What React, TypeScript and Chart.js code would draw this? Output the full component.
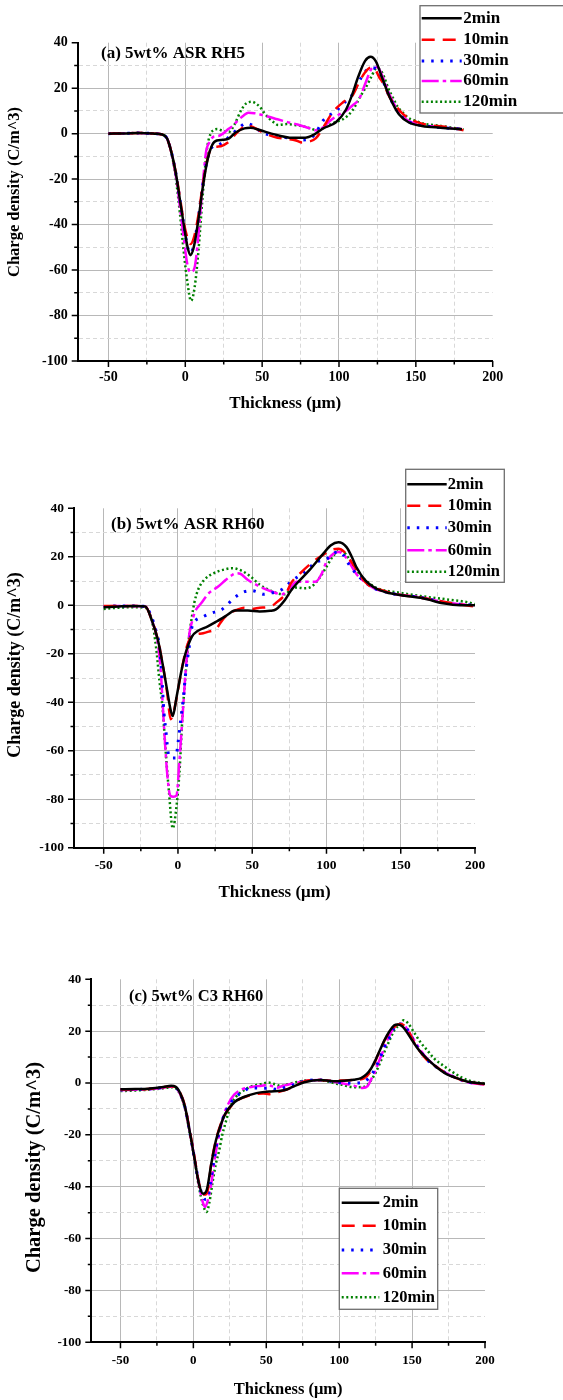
import React, { useEffect, useRef } from 'react';
import { Chart, registerables } from 'chart.js';

Chart.register(...registerables);

// ---------------- data ----------------
const SERIES = ['2min', '10min', '30min', '60min', '120min'];
const X_TICK_LABELS = [-50, 0, 50, 100, 150, 200];
const X_TICKS_ALL = [-50, -25, 0, 25, 50, 75, 100, 125, 150, 175, 200];
const Y_TICK_LABELS = [-100, -80, -60, -40, -20, 0, 20, 40];
const Y_TICKS_ALL = [-100, -90, -80, -70, -60, -50, -40, -30, -20, -10, 0, 10, 20, 30, 40];
const PANEL_TITLES = ['(a) 5wt% ASR RH5', '(b) 5wt% ASR RH60', '(c) 5wt% C3 RH60'];
const X_TITLE = 'Thickness (\u03bcm)';
const Y_TITLE = 'Charge density (C/m^3)';

// Panel (a) 5wt% ASR RH5
const A_X_2 = [-50,-40,-30,-20,-15,-12,-9.5,-6.5,-3.5,-1,1.5,3.3,5.5,8.5,11.5,14.5,17.5,20.5,24.5,28.5,32.5,38.5,42.5,48.5,56,62,68,78,84,90,98,104.5,108.5,112.5,117,120.5,124,128,133,139,145.5,154,166,180];
const A_Y_2 = [0,0.1,0.3,0,-0.4,-2,-7,-16,-29,-40,-50,-53.5,-50,-38,-23,-11.5,-5,-3,-2.7,-2.1,0.4,2.3,2.6,1.6,0,-1,-1.8,-1.8,-0.3,2.4,5,10.5,17,25,32,33.8,31.8,24.7,16,8.5,4.9,3.4,2.6,1.9];
const A_X_10 = [-50,-40,-30,-20,-15,-12,-9.5,-6.5,-3.5,-1,1.5,3.5,5.5,8.5,11.5,14.5,17.5,21.5,25,29,33,37,40,45,52,60,66,72,76,80,85,90,96,103,109,113,117,120.5,123,126,129,133,137,141,145.5,154,170,181];
const A_Y_10 = [0,0.1,0.3,0,-0.4,-2,-7,-16,-28,-39,-46,-48.5,-46,-36,-22,-11,-6,-5.7,-5,-3.2,0,2.5,3.8,2.5,0,-1.8,-2.3,-3,-3.9,-3.6,-2,3,9.5,14,17,22.5,27,29,28.7,25,21.8,16,12.2,9,6.8,4.4,2.9,1.5];
const A_X_30 = [-50,-40,-30,-20,-15,-12,-9.5,-6.5,-3.5,-1,1.5,3.5,5.5,8.5,11.5,14.5,18,21,25,30,35,39.5,44,50,57,62,68,75,80,84,90,98,104,108,114.5,118,121,124,128,133,139,145.5,154,166,180];
const A_Y_30 = [0,0.1,0.3,0,-0.4,-2,-7,-16,-29,-40,-50,-52.5,-49,-37,-22,-11,-5.5,-5,-3.5,-0.5,2.5,4.5,3.5,0.5,-0.8,-1.4,-2,-2.8,-2.5,-0.5,6,10,14,16.5,24.7,28,29,28.5,24,16,9,5.2,3.6,2.7,2];
const A_X_60 = [-50,-40,-30,-20,-15,-12,-9.5,-6.5,-3.5,-1,1.5,3.5,6,8.5,11,13.5,16,18.5,21.5,24.5,28,31,34.5,38,41,45,50,55,60,66,73,81,85,89,94,99,104.5,109,113,117,121,123.5,126,129,133,139,145.5,154,166,180];
const A_Y_60 = [0,0.1,0.3,0,-0.4,-2,-7,-17,-32,-46,-58,-61,-59,-45,-25,-8,-3.5,-1.3,-1,0,2,3.5,6,8,9.2,9,8.2,7.3,6.3,5.2,4,2.3,1.5,2.5,5.6,8,10,12.5,15.1,21.8,28.4,29.4,28.5,24,17,9.5,5.5,3.8,2.8,2];
const A_X_120 = [-50,-40,-30,-20,-15,-12,-9.5,-6.5,-3.5,-1,1.5,3.7,6,8.5,11,13,14.5,16.5,18.5,21,24,28.5,32,36.5,40,43.5,46,48.5,51.5,54.5,57.5,60.5,66,71,75,80,86,90,94.5,98,102.5,108.5,114.8,118,121,124.5,127,129.5,132,135,138,141.5,145,150,156,162,170,181];
const A_Y_120 = [0,0.1,0.3,0,-0.4,-2,-7,-18,-35,-52,-66,-73.5,-68,-52,-30,-14,-5,0,1.6,2,1.3,0.8,4,10.5,13.5,14,13.2,11.8,9,6.7,5,3.8,4.2,3.8,3.5,2.6,1.5,2.5,4.1,5.2,6.3,10,17.4,21,25,28.8,28,24.7,20,15.9,12,9.3,7,5.6,4.2,3.8,3,1.9];

// Panel (b) 5wt% ASR RH60
const B_X_2 = [-50,-40,-30,-22,-17.7,-13.5,-10.4,-7.3,-5,-3.5,-1,2,5,9.4,13.5,19.8,26,32.3,38.5,47,55,62,66,69,72,76,80,88.5,97,103,108,113.5,117,120,126,134.4,140,149.5,165,178.6,190,200];
const B_Y_2 = [-0.8,-0.5,-0.3,-0.5,-6,-14.3,-24,-35,-43,-45.7,-38,-28,-20,-12.9,-10.5,-8.8,-6.7,-4.4,-2.2,-2.2,-2.6,-2.3,-1.7,0,2.2,6,9,14.5,20.7,24.8,26,24,20,15.9,10.4,6.6,5.4,4.2,2.9,0.8,0,0];
const B_X_10 = [-50,-40,-30,-22,-17.7,-13.5,-10.4,-7.3,-4.9,-2.5,0,3,6,9.4,13.5,17,20,26,30,35,40,44.5,50,55,60,64,67,70,73,76,82,91,97,104,108,112,116,120,124,129,133,142.7,150,159.4,171.9,184.4,200];
const B_Y_10 = [-0.3,-0.3,-0.3,-0.5,-6,-14.3,-24,-36,-47,-43,-35,-25,-17,-12.5,-11.8,-11.5,-11,-9.5,-6,-3.2,-1.8,-1,-1.5,-1,-0.8,0,1.5,3,5,9,13,18,20.5,23,23.3,22,18.6,15,11,8,7,5.2,4.2,3.6,2.2,0.8,-0.5];
const B_X_30 = [-50,-40,-30,-22,-17.7,-15,-12.5,-11,-9.4,-8.3,-6.2,-4,-1.5,0,2.1,3.5,5.2,7.3,9.4,11.5,16,21.9,29.2,36.5,40,44.8,50,53,58,61.5,66,70,76,80,84.4,88,92.7,96,100,104,107.3,111,115,120,126,132,142,150,160,172,184,200];
const B_Y_30 = [-0.5,-0.3,-0.3,-0.5,-5,-10,-17,-28,-44.6,-50.8,-62,-63,-63,-57,-46,-39,-28,-18.4,-9,-6.5,-5,-3.3,-1.9,2.2,4,5.6,6,5.6,4.5,5,5.5,6.5,9.7,11.5,13.2,15,18,18.3,19,21,22,21,17,13,9.5,7,5.2,4.2,3.6,2.2,0.8,0];
const B_X_60 = [-50,-40,-30,-22,-17.7,-13.5,-11.5,-9.4,-7.3,-5.2,-3,-1,1,3.5,5.6,7.7,9.8,11.5,15.6,20.8,27.1,32.3,36.5,39.6,42,46.9,55.2,63.5,70,75,80,86,92.7,96.9,100,105,108.3,112,116,120,126,132,142,150,160,172,184,200];
const B_Y_60 = [-0.5,-0.3,-0.3,-0.5,-6,-16,-28,-50,-69,-78.5,-79,-78.5,-64,-42,-24,-11.6,-6,-2.6,0.8,5,7.7,10.5,12.5,13.2,13,10.5,7.7,5.6,4.5,7,9.7,9.7,9.7,13.2,18,21.4,22,20.5,17,13,9.5,7,5.2,4.2,3.6,2.2,0.8,0];
const B_X_120 = [-50,-40,-30,-22,-17.7,-14.6,-12.5,-10.4,-8.3,-6.2,-3.5,-1,1,3.1,5.2,7.3,9.4,11,13.5,17.7,24,32.3,36.5,42.7,49,55.2,61.5,67.7,72,76,80,85,90,95,100,105,109.8,113,117.7,122,126,134.4,149,163.5,180,192.7,200];
const B_Y_120 = [-1.5,-1,-0.8,-1,-6,-18,-31,-42,-60,-76,-92,-83,-69,-45,-28,-14,-4.7,1,6.3,10.5,13.2,14.9,15.3,14.3,11.8,8.4,6.3,4.8,4.5,6.5,7.3,7,7.7,11,15.9,20.7,22.7,21,16.6,13,10.4,7,5.2,3.8,2.5,1.5,0.5];

// Panel (c) 5wt% C3 RH60
const C_X_2 = [-50,-40,-31,-20.6,-15.3,-12.1,-8.9,-5.7,-2.6,0.6,3.8,6.6,9.1,12.3,15.5,18.7,21.9,28.3,34.7,43.2,52,60,64,70,76,87,96,103,110,115,119,121.8,125,128.2,131,134,137.8,140,143,146,150,155,160,166,174,180,187.5,200];
const C_Y_2 = [-2.4,-2.3,-2.2,-1.5,-1.1,-1.5,-4.1,-9.3,-18.3,-28.5,-38.8,-42.7,-41.4,-31.1,-22.1,-16.3,-11.8,-7.3,-5.4,-3.9,-3.3,-3,-2.5,-1,0.3,1.2,0.7,0.9,1.3,1.9,3.5,5.5,9,13,16.5,19.5,22.3,22.6,22,20,16.5,12.5,9.5,6.5,3.3,2,0.6,-0.3];
const C_X_10 = [-50,-40,-31,-20.6,-15.3,-12.1,-8.9,-5.7,-2.6,0.6,3.8,6,8.5,10,12.3,15.5,18.7,21.9,28.3,34.7,43,48,52,58,64,70,76.9,87,96,103,109,117,121,126,129,132.5,136,139,142,145,148,151,155,160,166,174,180,188,200];
const C_Y_10 = [-2.5,-2.4,-2.3,-1.6,-1.2,-1.6,-4,-9,-18,-28,-38.5,-43,-43,-41,-31,-22,-16,-12,-7.5,-5.5,-4.2,-4,-4.3,-3.5,-2.5,-1,0.8,1.2,0.8,1,1.2,1.8,4,10,14,17.8,20.5,22.2,22.8,22,19.5,16,12.5,9,6.5,3.5,2,0.5,-0.5];
const C_X_30 = [-50,-40,-31,-20.6,-15.3,-12.1,-8.9,-5.7,-2.6,0.6,3.8,6.6,9,11,13.5,16.5,19.5,23,29,35,39,43,47,52,58,64,70,77,87,96,104,110,117,121.8,125,128.2,131,134.6,138,141,144,147,150,154,158,162,167,174,180,188,200];
const C_Y_30 = [-2.6,-2.5,-2.3,-1.7,-1.3,-1.7,-4.3,-9.5,-18.5,-28.5,-38.5,-44,-45,-41,-32,-22,-15,-10,-5.5,-3,-1.9,-1.9,-2,-2,-2.5,-1.5,-0.5,0.8,1.2,0.5,0,0,0.5,2.9,6,10,14,17.8,21.5,22.8,22.5,20.5,17.5,13.5,10.5,8,6,3.6,2,0.4,-0.4];
const C_X_60 = [-50,-40,-31,-20.6,-15.3,-12.1,-8.9,-5.7,-2.6,0.6,3.8,6.5,8.1,10,12.5,15,18,21,24,28,33,37,40,44,48,50.3,54,57.2,62,70,77,87,96,104.7,110,116,119.5,122,124,127,130.3,133,135.7,139,141,143,145,148,152,156,161,167,174,180,188,200];
const C_Y_60 = [-2.8,-2.6,-2.4,-1.8,-1.4,-1.8,-4.4,-9.5,-18.5,-28.5,-39,-46,-47.8,-45,-38,-28,-19,-12,-8,-4.5,-2.5,-1.8,-1.5,-1.2,-1,-0.7,-1.2,-1.8,-1,0,0.8,1.2,0.5,-0.4,-1,-1.9,-1.2,1.5,3.6,8,12.6,16.5,19.7,22.3,22.8,22.8,22,19.5,16,12.5,9,6.2,3.6,2,0.3,-0.6];
const C_X_120 = [-50,-40,-31,-20.6,-15.3,-12.1,-8.9,-5.7,-2.6,0.6,3.8,6.6,9.1,11,13.4,15.5,17.7,19.8,21.9,24,26.2,29,32.6,35.5,38.9,43,47.4,51.3,55,60.2,64,70,77,82,87.6,93,98.3,103,106.8,112,117.5,121.8,125,128.2,131,134.6,138,141,144.2,147,151.7,156,160.3,165,170.9,177,183.8,190,200];
const C_Y_120 = [-3.1,-2.9,-2.6,-2,-1.6,-2,-4.6,-10,-19,-29,-40,-47,-49.7,-46,-37.5,-31,-26,-20,-15.7,-11.5,-8,-5.5,-3.5,-2.5,-1.5,-0.8,-0.3,0.2,-0.3,-1.2,-0.6,0.3,1,1.1,1,0.5,-0.3,-0.8,-1.4,-1.6,-1.4,1,4,8,12,16.5,20.5,22.3,24.2,23.2,19.2,15.5,12.7,9.5,6.9,4.5,2.2,0.8,-0.2];

const PANEL_DATA = [
  [[A_X_2, A_Y_2], [A_X_10, A_Y_10], [A_X_30, A_Y_30], [A_X_60, A_Y_60], [A_X_120, A_Y_120]],
  [[B_X_2, B_Y_2], [B_X_10, B_Y_10], [B_X_30, B_Y_30], [B_X_60, B_Y_60], [B_X_120, B_Y_120]],
  [[C_X_2, C_Y_2], [C_X_10, C_Y_10], [C_X_30, C_Y_30], [C_X_60, C_Y_60], [C_X_120, C_Y_120]],
];

// ---------------- styles ----------------
const FONT = "'Liberation Serif', 'Times New Roman', Times, serif";
const LINE_COLORS = ['#000000', '#ff0000', '#0000ff', '#ff00ff', '#008000'];
const LINE_DASHES = [[], [13, 8], [2.5, 7], [17, 4, 3.5, 4], [2, 2.6]];
const LINE_WIDTHS = [2.5, 2.5, 3, 2.5, 2.5];
const GRID_MAJOR = '#b8b8b8';
const GRID_MINOR = '#d8d8d8';

// ---------------- layout (page pixels) ----------------
const LAYOUTS = [
  {
    top: 0, h: 440, area: { l: 77.7, t: 42.7, r: 492.7, b: 361 },
    tickFont: 14, xTickPad: 8, xTitleFont: 17, xTitleY: 403.3,
    yTitle: { x: 15, y: 192, size: 16.5 },
    label: { x: 101, y: 53.3, size: 17 },
    legend: { x0: 420, y0: 5.7, x1: 567, y1: 113, s0: 421.7, s1: 461.7, tx: 463.3, size: 17, rows: [18.3, 39.7, 61, 81, 101.7] },
  },
  {
    top: 440, h: 480, area: { l: 74, t: 508.3, r: 475, b: 847.7 },
    tickFont: 13.5, xTickPad: 9.5, xTitleFont: 17, xTitleY: 892.7,
    yTitle: { x: 15.5, y: 665, size: 18 },
    label: { x: 111, y: 525, size: 17 },
    legend: { x0: 405.7, y0: 469.3, x1: 504.3, y1: 582.3, s0: 407.3, s1: 446.7, tx: 447.7, size: 16.5, rows: [484.3, 505.7, 527.7, 550.3, 571.7] },
  },
  {
    top: 920, h: 480, area: { l: 91.3, t: 979.3, r: 485, b: 1342.3 },
    tickFont: 13, xTickPad: 11, xTitleFont: 16.5, xTitleY: 1390,
    yTitle: { x: 35, y: 1167.5, size: 20.5 },
    label: { x: 129, y: 996.7, size: 16.5 },
    legend: { x0: 339.3, y0: 1188.3, x1: 437.7, y1: 1309.3, s0: 341.7, s1: 379.3, tx: 382.7, size: 16.5, rows: [1202.7, 1225.7, 1250, 1273.3, 1297.3] },
  },
];

const CANVAS_W = 563;

function buildChart(canvas: HTMLCanvasElement, idx: number) {
  const L = LAYOUTS[idx];
  const off = L.top;
  const xTitleLine = L.xTitleFont * 1.2;
  const xScaleH = L.xTitleY - L.area.b + xTitleLine / 2;
  const padBottom = L.h - (L.area.b - off) - xScaleH;

  const datasets = PANEL_DATA[idx].map(([xs, ys], i) => ({
    label: SERIES[i],
    data: xs.map((x: number, k: number) => ({ x, y: ys[k] })),
    borderColor: LINE_COLORS[i],
    backgroundColor: LINE_COLORS[i],
    borderWidth: LINE_WIDTHS[i],
    borderDash: LINE_DASHES[i],
    borderCapStyle: 'butt',
    pointRadius: 0,
    fill: false,
    cubicInterpolationMode: 'monotone',
  }));

  const overlay = {
    id: 'overlay',
    afterDraw(chart: any) {
      const ctx = chart.ctx;
      const { left, bottom } = chart.chartArea;
      const xs = chart.scales.x;
      const ys = chart.scales.y;
      ctx.save();
      // tick marks
      ctx.setLineDash([]);
      ctx.strokeStyle = '#000';
      ctx.lineWidth = 1.5;
      ctx.beginPath();
      for (const t of xs.ticks) {
        const px = xs.getPixelForValue(t.value);
        const len = X_TICK_LABELS.includes(t.value) ? 6 : 3.5;
        ctx.moveTo(px, bottom);
        ctx.lineTo(px, bottom + len);
      }
      for (const t of ys.ticks) {
        const py = ys.getPixelForValue(t.value);
        const len = Y_TICK_LABELS.includes(t.value) ? 6 : 3.5;
        ctx.moveTo(left, py);
        ctx.lineTo(left - len, py);
      }
      ctx.stroke();

      // panel label
      ctx.fillStyle = '#000';
      ctx.textBaseline = 'middle';
      ctx.textAlign = 'left';
      ctx.font = `bold ${L.label.size}px ${FONT}`;
      ctx.fillText(PANEL_TITLES[idx], L.label.x, L.label.y - off);

      // y title
      ctx.save();
      ctx.translate(L.yTitle.x, L.yTitle.y - off);
      ctx.rotate(-Math.PI / 2);
      ctx.textAlign = 'center';
      ctx.font = `bold ${L.yTitle.size}px ${FONT}`;
      ctx.fillText(Y_TITLE, 0, 0);
      ctx.restore();

      // legend
      const G = L.legend;
      ctx.fillStyle = '#fff';
      ctx.fillRect(G.x0, G.y0 - off, G.x1 - G.x0, G.y1 - G.y0);
      ctx.strokeStyle = '#6e6e6e';
      ctx.lineWidth = 1.3;
      ctx.strokeRect(G.x0, G.y0 - off, G.x1 - G.x0, G.y1 - G.y0);
      chart.data.datasets.forEach((ds: any, i: number) => {
        const y = G.rows[i] - off;
        ctx.strokeStyle = ds.borderColor;
        ctx.lineWidth = ds.borderWidth;
        ctx.setLineDash(ds.borderDash);
        ctx.lineCap = 'butt';
        ctx.beginPath();
        ctx.moveTo(G.s0, y);
        ctx.lineTo(G.s1, y);
        ctx.stroke();
        ctx.setLineDash([]);
        ctx.fillStyle = '#000';
        ctx.font = `bold ${G.size}px ${FONT}`;
        ctx.textAlign = 'left';
        ctx.textBaseline = 'middle';
        ctx.fillText(ds.label, G.tx, y);
      });
      ctx.restore();
    },
  };

  return new Chart(canvas, {
    type: 'line',
    data: { datasets },
    options: {
      animation: false,
      responsive: false,
      devicePixelRatio: 1,
      events: [],
      layout: { padding: { left: 0, top: L.area.t - off, right: CANVAS_W - L.area.r, bottom: padBottom } },
      plugins: { legend: { display: false }, tooltip: { enabled: false }, title: { display: false } },
      scales: {
        x: {
          type: 'linear',
          min: -70,
          max: 200,
          afterBuildTicks: (s: any) => { s.ticks = X_TICKS_ALL.map((v) => ({ value: v })); },
          afterFit: (s: any) => { s.height = xScaleH; },
          ticks: {
            autoSkip: false,
            maxRotation: 0,
            minRotation: 0,
            padding: L.xTickPad,
            color: '#000',
            font: { family: FONT, size: L.tickFont, weight: 'bold' },
            callback: (v: number) => (X_TICK_LABELS.includes(v) ? String(v) : ''),
          },
          grid: {
            drawTicks: false,
            lineWidth: 1,
            color: (c: any) => {
              const v = c.tick ? c.tick.value : null;
              if (v === null) return GRID_MAJOR;
              if (v <= -70 || v >= 200) return 'rgba(0,0,0,0)';
              return X_TICK_LABELS.includes(v) ? GRID_MAJOR : GRID_MINOR;
            },
          },
          border: {
            display: true,
            color: '#000',
            width: 2,
            dash: (c: any) => (c.tick && !X_TICK_LABELS.includes(c.tick.value) ? [4, 3] : []),
          },
          title: {
            display: true,
            text: X_TITLE,
            color: '#000',
            padding: 0,
            font: { family: FONT, size: L.xTitleFont, weight: 'bold' },
          },
        },
        y: {
          type: 'linear',
          min: -100,
          max: 40,
          afterBuildTicks: (s: any) => { s.ticks = Y_TICKS_ALL.map((v) => ({ value: v })); },
          afterFit: (s: any) => { s.width = L.area.l; },
          ticks: {
            autoSkip: false,
            padding: 10,
            color: '#000',
            font: { family: FONT, size: L.tickFont, weight: 'bold' },
            callback: (v: number) => (Y_TICK_LABELS.includes(v) ? String(v) : ''),
          },
          grid: {
            drawTicks: false,
            lineWidth: 1,
            color: (c: any) => {
              const v = c.tick ? c.tick.value : null;
              if (v === null) return GRID_MAJOR;
              if (v <= -100 || v >= 40) return 'rgba(0,0,0,0)';
              return Y_TICK_LABELS.includes(v) ? GRID_MAJOR : GRID_MINOR;
            },
          },
          border: {
            display: true,
            color: '#000',
            width: 2,
            dash: (c: any) => (c.tick && !Y_TICK_LABELS.includes(c.tick.value) ? [4, 3] : []),
          },
        },
      },
    },
    plugins: [overlay],
  } as any);
}

function Panel({ idx }: { idx: number }) {
  const ref = useRef<HTMLCanvasElement | null>(null);
  const L = LAYOUTS[idx];
  useEffect(() => {
    if (!ref.current) return;
    const chart = buildChart(ref.current, idx);
    return () => chart.destroy();
  }, [idx]);
  return (
    <canvas
      ref={ref}
      width={CANVAS_W}
      height={L.h}
      style={{ position: 'absolute', left: 0, top: L.top, display: 'block' }}
    />
  );
}

export default function App() {
  return (
    <div style={{ position: 'absolute', left: 0, top: 0, width: CANVAS_W, height: 1400, background: '#ffffff', overflow: 'hidden' }}>
      <Panel idx={0} />
      <Panel idx={1} />
      <Panel idx={2} />
    </div>
  );
}
